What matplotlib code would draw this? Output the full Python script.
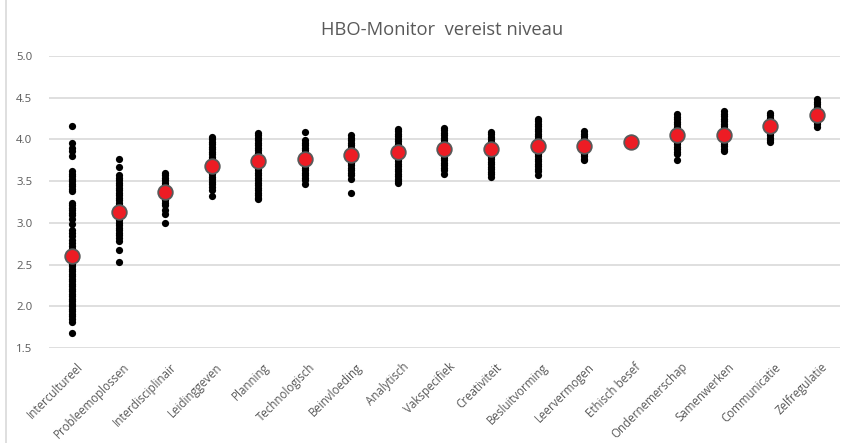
import numpy as np
import matplotlib.pyplot as plt
from matplotlib.lines import Line2D
import matplotlib.transforms as mtransforms

plt.rcParams['font.family'] = ['Open Sans', 'DejaVu Sans']

categories = ['Intercultureel', 'Probleemoplossen', 'Interdisciplinair', 'Leidinggeven',
              'Planning', 'Technologisch', 'Beinvloeding', 'Analytisch', 'Vakspecifiek',
              'Creativiteit', 'Besluitvorming', 'Leervermogen', 'Ethisch besef',
              'Ondernemerschap', 'Samenwerken', 'Communicatie', 'Zelfregulatie']

means = [2.60, 3.13, 3.37, 3.68, 3.74, 3.76, 3.81, 3.85, 3.88, 3.885,
         3.92, 3.92, 3.97, 4.05, 4.05, 4.16, 4.29]

# individual scores per competence
intercultureel = [4.16, 3.96, 3.90, 3.86, 3.80, 3.62, 3.59, 3.56, 3.53, 3.50, 3.47, 3.44,
                  3.41, 3.38, 3.24, 3.21, 3.18, 3.15, 3.12, 3.09, 3.05, 2.99, 2.92, 2.88,
                  2.84, 2.80, 2.76, 2.72, 2.69, 2.66, 2.63, 2.60, 2.57, 2.54, 2.51, 2.48,
                  2.45, 2.42, 2.39, 2.36, 2.33, 2.30, 2.27, 2.24, 2.21, 2.18, 2.15, 2.12,
                  2.09, 2.06, 2.03, 2.00, 1.97, 1.94, 1.91, 1.88, 1.85, 1.81, 1.68]
probleemoplossen = [3.76, 3.67, 3.57, 3.54, 3.51, 3.48, 3.45, 3.42, 3.39, 3.36, 3.33, 3.30,
                    3.27, 3.24, 3.21, 3.18, 3.15, 3.12, 3.09, 3.06, 3.03, 3.00, 2.97, 2.94,
                    2.91, 2.88, 2.85, 2.82, 2.78, 2.68, 2.53]
interdisciplinair = [3.60, 3.57, 3.54, 3.51, 3.48, 3.45, 3.42, 3.39, 3.36, 3.33, 3.30,
                     3.27, 3.24, 3.21, 3.16, 3.11, 3.00]
leidinggeven = [4.03, 4.00, 3.97, 3.94, 3.91, 3.88, 3.85, 3.82, 3.79, 3.76, 3.73, 3.70,
                3.67, 3.64, 3.61, 3.58, 3.55, 3.52, 3.49, 3.46, 3.43, 3.39, 3.32]
planning = [4.08, 4.05, 4.02, 3.99, 3.96, 3.93, 3.90, 3.87, 3.84, 3.81, 3.78, 3.75, 3.72,
            3.69, 3.66, 3.63, 3.60, 3.57, 3.54, 3.51, 3.48, 3.45, 3.42, 3.39, 3.36, 3.33,
            3.30, 3.28]
technologisch = [4.09, 3.99, 3.96, 3.93, 3.90, 3.87, 3.84, 3.81, 3.78, 3.75, 3.72, 3.69,
                 3.66, 3.63, 3.60, 3.57, 3.54, 3.51, 3.47]
beinvloeding = [4.05, 4.02, 3.99, 3.96, 3.93, 3.90, 3.87, 3.84, 3.81, 3.78, 3.75, 3.72,
                3.69, 3.66, 3.63, 3.60, 3.57, 3.53, 3.36]
analytisch = [4.13, 4.10, 4.07, 4.04, 4.01, 3.98, 3.95, 3.92, 3.89, 3.86, 3.83, 3.80,
              3.77, 3.74, 3.71, 3.68, 3.65, 3.62, 3.59, 3.56, 3.53, 3.50, 3.48]
vakspecifiek = [4.14, 4.11, 4.08, 4.05, 4.02, 3.99, 3.96, 3.93, 3.90, 3.87, 3.84, 3.81,
                3.78, 3.75, 3.72, 3.69, 3.66, 3.63, 3.59]
creativiteit = [4.09, 4.06, 4.03, 4.00, 3.97, 3.94, 3.91, 3.88, 3.85, 3.82, 3.79, 3.76,
                3.73, 3.70, 3.67, 3.64, 3.61, 3.58, 3.55]
besluitvorming = [4.25, 4.22, 4.19, 4.16, 4.13, 4.10, 4.07, 4.04, 4.01, 3.98, 3.95, 3.92,
                  3.89, 3.86, 3.83, 3.80, 3.77, 3.74, 3.71, 3.68, 3.65, 3.62, 3.57]
leervermogen = [4.10, 4.07, 4.04, 4.01, 3.98, 3.95, 3.92, 3.89, 3.86, 3.83, 3.80, 3.77,
                3.75]
ethisch_besef = [4.02, 3.99, 3.96, 3.93]
ondernemerschap = [4.30, 4.27, 4.24, 4.21, 4.18, 4.15, 4.12, 4.09, 4.06, 4.03, 4.00, 3.97,
                   3.94, 3.91, 3.88, 3.85, 3.83, 3.75]
samenwerken = [4.34, 4.31, 4.28, 4.25, 4.22, 4.19, 4.16, 4.13, 4.10, 4.07, 4.04, 4.01,
               3.98, 3.95, 3.92, 3.89, 3.86]
communicatie = [4.32, 4.29, 4.26, 4.23, 4.20, 4.17, 4.14, 4.11, 4.08, 4.05, 4.02, 3.99,
                3.97]
zelfregulatie = [4.48, 4.45, 4.42, 4.39, 4.36, 4.33, 4.30, 4.27, 4.24, 4.21, 4.18, 4.15]

scores = [intercultureel, probleemoplossen, interdisciplinair, leidinggeven, planning,
          technologisch, beinvloeding, analytisch, vakspecifiek, creativiteit,
          besluitvorming, leervermogen, ethisch_besef, ondernemerschap, samenwerken,
          communicatie, zelfregulatie]

grey = '#595959'

fig = plt.figure(figsize=(8.45, 4.43), dpi=100)
ax = fig.add_axes([49 / 845, 95 / 443, 791 / 845, 292 / 443])

x = np.arange(len(categories)) + 0.5
for xi, vals in zip(x, scores):
    ax.plot([xi] * len(vals), vals, 'o', color='black', markersize=5.2,
            markeredgewidth=0, zorder=3)
ax.plot(x, means, 'o', color='#ED1C24', markersize=10.5, markeredgecolor=grey,
        markeredgewidth=1.3, linestyle='none', zorder=4)

ax.set_xlim(0, len(categories))
ax.set_ylim(1.5, 5.0)
ax.set_yticks(np.arange(1.5, 5.01, 0.5))
ax.set_yticklabels([f'{v:.1f}' for v in np.arange(1.5, 5.01, 0.5)])
ax.grid(axis='y', color='#d9d9d9', linewidth=1.2, zorder=0)
ax.set_axisbelow(True)
for s in ax.spines.values():
    s.set_visible(False)
ax.tick_params(axis='y', length=0, pad=12, labelsize=8.2, labelcolor=grey)
ax.tick_params(axis='x', length=0, pad=9, labelsize=8.3, labelcolor=grey)

ax.set_xticks(x)
ax.set_xticklabels(categories, rotation=45, ha='right', rotation_mode='anchor')
offset = mtransforms.ScaledTranslation(4 / 100, 0, fig.dpi_scale_trans)
for lbl in ax.get_xticklabels():
    lbl.set_transform(lbl.get_transform() + offset)

fig.text(0.523, 1 - 30 / 443, 'HBO-Monitor  vereist niveau', ha='center', va='center',
         fontsize=13.2, color=grey)

# thin chart-area border at the left edge
fig.add_artist(Line2D([6 / 845, 6 / 845], [0, 1], transform=fig.transFigure,
                      color='#d9d9d9', linewidth=1.2))

fig.savefig('out.png', dpi=100)
